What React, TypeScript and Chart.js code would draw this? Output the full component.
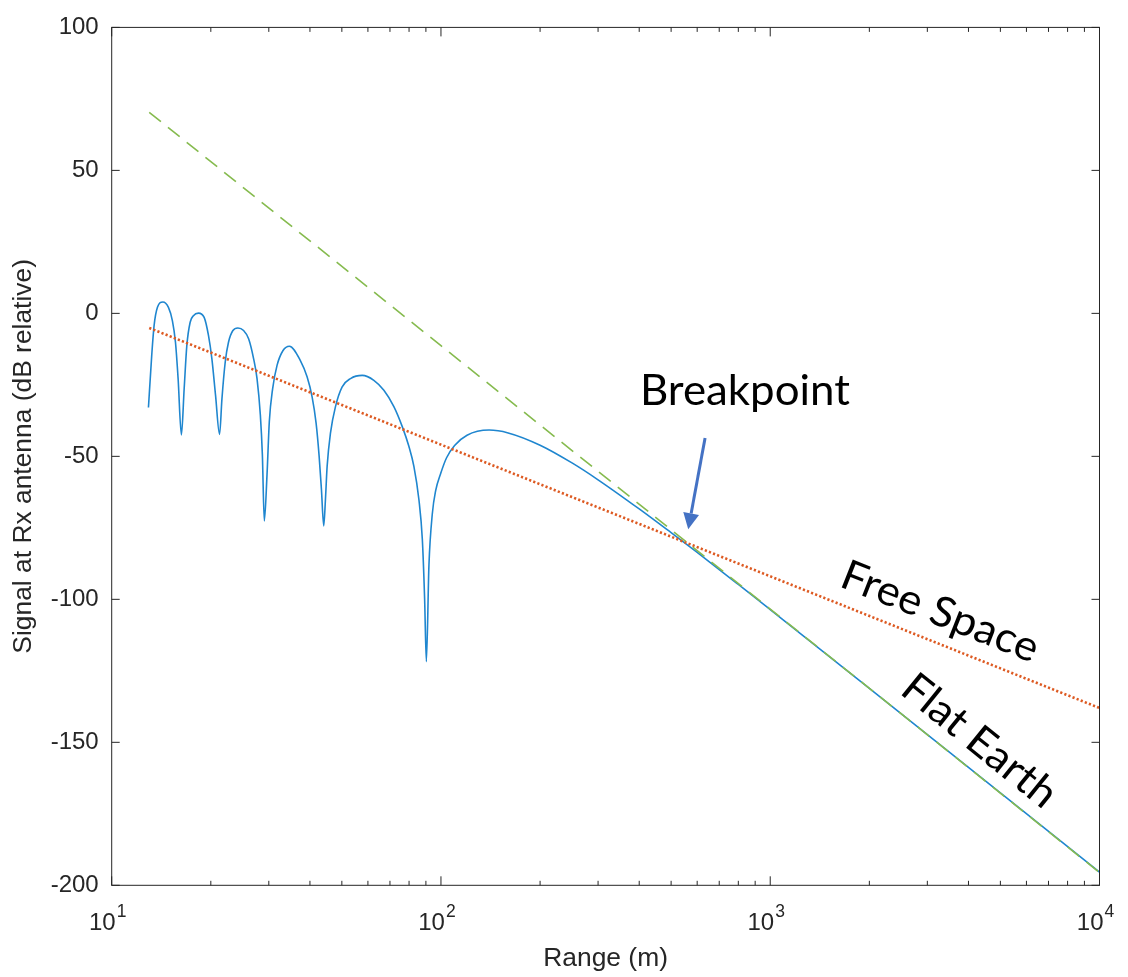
import React, { useEffect, useRef } from 'react';
import { Chart, registerables } from 'chart.js';

Chart.register(...registerables);

// ---- data ----
const twoRayRange = [
  12.93, 13.23, 13.45, 13.77, 14.3, 14.87, 15.29, 15.62, 15.91, 16.28,
  16.6, 16.91, 17.31, 17.71, 18.34, 19.09, 19.68, 20.15, 20.67, 21.26,
  21.62, 22.12, 22.63, 23.34, 24.17, 25.15, 26.05, 26.98, 27.63, 28.28, 28.68, 29.07,
  29.63, 30.11, 30.82, 31.78, 33.14, 34.64, 37.41, 39.21, 40.61, 41.76, 42.66, 43.35, 44.05,
  44.58, 45.11, 46.17, 47.82, 50.11, 53.12, 57.66, 62.54, 67.08, 71.94, 76.29, 79.9, 82.75,
  85.7, 87.78, 89.2, 90.29,
  91.94, 94.15, 96.36, 99.8, 104, 110, 120, 140, 160, 200, 250, 300, 400, 500, 600, 800,
  1000, 2000, 5000, 10000,
];
const twoRaySignal = [
  -32.9, -14.7, -4.3, 2.1, 4.0, 2.1, -2.6, -10.1, -22.8, -42.5,
  -26.3, -11.3, -3.1, -0.8, 0.1, -1.4, -7.8, -15.9, -28.6, -42.3,
  -29.8, -17.0, -10.1, -6.0, -5.1, -6.0, -8.9, -15.9, -22.8, -35.6, -49.4, -72.6,
  -56.4, -37.8, -26.3, -18.2, -13.0, -11.5, -16.5, -22.2, -29.2, -38.4, -50.0, -61.6, -74.3,
  -65.1, -53.5, -41.9, -32.6, -25.7, -22.8, -21.7, -23.4, -26.9, -32.6, -39.6, -46.5, -53.5,
  -65.1, -79.0, -99.8, -121.8,
  -88.0, -70.0, -62.0, -56.0, -50.5, -46.2, -42.6, -40.8, -41.8, -46.1, -52.3, -58.2, -68.4, -76.7, -83.6, -94.8,
  -103.6, -131.1, -167.7, -195.4,
];
const freeSpaceRange = [13, 100, 1000, 10000];
const freeSpaceSignal = [-5.1, -45.9, -91.95, -138];
const flatEarthRange = [13, 100, 1000, 10000];
const flatEarthSignal = [70.3, -11.3, -103.4, -195.5];

const yTickValues = [-200, -150, -100, -50, 0, 50, 100];
const xDecadeTicks = [10, 100, 1000, 10000];
const xDecadeExponents = ['1', '2', '3', '4'];
const xMinorMultipliers = [2, 3, 4, 5, 6, 7, 8, 9];

// annotation anchors (data coordinates)
const breakpointText = { text: 'Breakpoint', range: 838, signal: -32.2 };
const arrowTail = { range: 634, signal: -43.6 };
const arrowTip = { range: 563.6, signal: -75.5 };
const freeSpaceText = { text: 'Free Space', range: 3166, signal: -108.8, angle: 21.6 };
const flatEarthText = { text: 'Flat Earth', range: 4066, signal: -153.2, angle: 39 };

const AXIS_COLOR = '#262626';
const SANS = '"Liberation Sans", Arial, Helvetica, sans-serif';
const NOTE_FONT = 'Lato, "Open Sans", sans-serif';

const toXY = (xs: number[], ys: number[]) => xs.map((x, i) => ({ x, y: ys[i] }));

const axesPlugin = {
  id: 'matlabAxes',
  afterDatasetsDraw(chart: any) {
    const { ctx, chartArea: a, scales } = chart;
    const xs = scales.x;
    const ys = scales.y;
    ctx.save();
    ctx.strokeStyle = AXIS_COLOR;
    ctx.lineWidth = 1;
    ctx.beginPath();
    for (const v of yTickValues) {
      const py = ys.getPixelForValue(v);
      ctx.moveTo(a.left, py);
      ctx.lineTo(a.left + 8, py);
      ctx.moveTo(a.right, py);
      ctx.lineTo(a.right - 8, py);
    }
    for (const v of xDecadeTicks) {
      const px = xs.getPixelForValue(v);
      ctx.moveTo(px, a.bottom);
      ctx.lineTo(px, a.bottom - 9);
      ctx.moveTo(px, a.top);
      ctx.lineTo(px, a.top + 9);
    }
    for (const d of xDecadeTicks.slice(0, 3)) {
      for (const m of xMinorMultipliers) {
        const px = xs.getPixelForValue(d * m);
        ctx.moveTo(px, a.bottom);
        ctx.lineTo(px, a.bottom - 4.5);
        ctx.moveTo(px, a.top);
        ctx.lineTo(px, a.top + 4.5);
      }
    }
    ctx.stroke();
    ctx.strokeRect(a.left, a.top, a.right - a.left, a.bottom - a.top);

    // x tick labels: 10 with superscript exponent
    ctx.fillStyle = AXIS_COLOR;
    ctx.textAlign = 'left';
    ctx.textBaseline = 'alphabetic';
    xDecadeTicks.forEach((v, i) => {
      const px = xs.getPixelForValue(v);
      ctx.font = `24px ${SANS}`;
      const wBase = ctx.measureText('10').width;
      ctx.font = `17.5px ${SANS}`;
      const wExp = ctx.measureText(xDecadeExponents[i]).width;
      const start = px - (wBase + 1 + wExp) / 2 - 4;
      ctx.font = `24px ${SANS}`;
      ctx.fillText('10', start, a.bottom + 44.7);
      ctx.font = `17.5px ${SANS}`;
      ctx.fillText(xDecadeExponents[i], start + wBase + 1, a.bottom + 31.7);
    });

    // annotations
    ctx.font = `42px ${NOTE_FONT}`;
    const sx = 210 / ctx.measureText(breakpointText.text).width;
    ctx.fillStyle = '#000000';
    ctx.textAlign = 'center';
    ctx.textBaseline = 'alphabetic';
    const drawNote = (t: { text: string; range: number; signal: number; angle?: number }) => {
      ctx.save();
      ctx.translate(xs.getPixelForValue(t.range), ys.getPixelForValue(t.signal));
      ctx.rotate(((t.angle || 0) * Math.PI) / 180);
      ctx.scale(sx, 1);
      ctx.fillText(t.text, 0, 0);
      ctx.restore();
    };
    drawNote(breakpointText);
    drawNote(freeSpaceText);
    drawNote(flatEarthText);

    // arrow
    const tx = xs.getPixelForValue(arrowTail.range);
    const ty = ys.getPixelForValue(arrowTail.signal);
    const hx = xs.getPixelForValue(arrowTip.range);
    const hy = ys.getPixelForValue(arrowTip.signal);
    const ang = Math.atan2(hy - ty, hx - tx);
    const headLen = 16;
    const headHalf = 8;
    const bx = hx - headLen * Math.cos(ang);
    const by = hy - headLen * Math.sin(ang);
    ctx.strokeStyle = '#4472C4';
    ctx.fillStyle = '#4472C4';
    ctx.lineWidth = 3;
    ctx.beginPath();
    ctx.moveTo(tx, ty);
    ctx.lineTo(bx, by);
    ctx.stroke();
    ctx.beginPath();
    ctx.moveTo(hx, hy);
    ctx.lineTo(bx + headHalf * Math.sin(ang), by - headHalf * Math.cos(ang));
    ctx.lineTo(bx - headHalf * Math.sin(ang), by + headHalf * Math.cos(ang));
    ctx.closePath();
    ctx.fill();
    ctx.restore();
  },
};

export default function App() {
  const canvasRef = useRef<HTMLCanvasElement | null>(null);

  useEffect(() => {
    const canvas = canvasRef.current;
    if (!canvas) return;
    const chart = new Chart(canvas, {
      type: 'line',
      data: {
        datasets: [
          {
            label: 'Two-ray',
            data: toXY(twoRayRange, twoRaySignal),
            borderColor: '#1f86cf',
            borderWidth: 1.6,
            pointRadius: 0,
            cubicInterpolationMode: 'monotone',
            fill: false,
            order: 3,
          },
          {
            label: 'Free Space',
            data: toXY(freeSpaceRange, freeSpaceSignal),
            borderColor: '#dd5a22',
            borderWidth: 2.6,
            borderDash: [2.2, 2.2],
            pointRadius: 0,
            tension: 0,
            fill: false,
            order: 2,
          },
          {
            label: 'Flat Earth',
            data: toXY(flatEarthRange, flatEarthSignal),
            borderColor: '#86bb4f',
            borderWidth: 1.6,
            borderDash: [15, 9],
            pointRadius: 0,
            tension: 0,
            fill: false,
            order: 1,
          },
        ],
      },
      options: {
        responsive: false,
        animation: false,
        events: [],
        layout: { padding: { left: 0, top: 21.3, right: 28.5, bottom: 0 } },
        plugins: { legend: { display: false }, tooltip: { enabled: false } },
        scales: {
          x: {
            type: 'logarithmic',
            min: 10,
            max: 10000,
            grid: { display: false, drawTicks: false },
            border: { display: false },
            ticks: { display: false },
            title: {
              display: true,
              text: 'Range (m)',
              color: AXIS_COLOR,
              font: { family: SANS, size: 26.4, lineHeight: 1.2 },
              padding: { top: 0, bottom: 2 },
            },
            afterFit: (s: any) => {
              s.height = 91.7;
            },
          },
          y: {
            type: 'linear',
            min: -200,
            max: 100,
            grid: { display: false, drawTicks: false },
            border: { display: false },
            ticks: {
              stepSize: 50,
              padding: 13,
              color: AXIS_COLOR,
              font: { family: SANS, size: 24 },
            },
            title: {
              display: true,
              text: 'Signal at Rx antenna (dB relative)',
              color: AXIS_COLOR,
              font: { family: SANS, size: 26.4, lineHeight: 1.2 },
              padding: { top: 8, bottom: 0 },
            },
            afterFit: (s: any) => {
              s.width = 111.7;
            },
          },
        },
      },
      plugins: [axesPlugin],
    });
    return () => chart.destroy();
  }, []);

  return (
    <div style={{ position: 'absolute', left: 0, top: 0, width: 1128, height: 977, background: '#ffffff' }}>
      <canvas ref={canvasRef} width={1128} height={977} style={{ display: 'block' }} />
    </div>
  );
}
